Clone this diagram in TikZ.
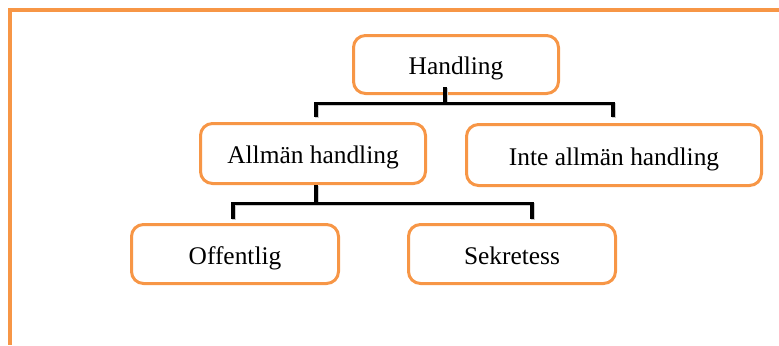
\documentclass[tikz,border=0pt]{standalone}
\usepackage{fontspec}
\setmainfont{Liberation Serif}
\definecolor{boxorange}{HTML}{F79646}
\tikzset{
  box/.style={draw=boxorange, line width=1.5pt, rounded corners=6pt, fill=white,
    inner sep=0pt, minimum height=29.5pt, text height=10.4pt, text depth=0pt,
    font=\fontsize{12.7}{15}\selectfont},
  bar/.style={line width=1.75pt, line join=miter,
    preaction={draw=black!20, line width=1.75pt, transform canvas={xshift=0.6pt,yshift=-0.6pt}}},
  frame/.style={draw=boxorange, line width=2pt}
}
\begin{document}
\begin{tikzpicture}[x=0.5pt, y=-0.5pt]
    \useasboundingbox (0,0) rectangle (779,345);

        \draw[frame] (779,10.3) -| (10.3,345);

        \node[box, minimum width=102.5pt, minimum height=29pt] (hand) at (456,64.5) {Handling};
        \node[box, minimum width=112.5pt, minimum height=30pt] (allm) at (313,153.5) {Allmän handling};
        \node[box, minimum width=147.5pt, minimum height=30.5pt] (inte) at (614,155) {Inte allmän handling};
        \node[box, minimum width=103.5pt] (off) at (235,254) {Offentlig};
        \node[box, minimum width=103.5pt] (sekr) at (512,254) {Sekretess};

        \draw[bar] ([xshift=-5.5pt,yshift=4pt]hand.south) -- ++(0,16.5) -| ([xshift=1.5pt,yshift=2.75pt]allm.north);
        \draw[bar] ([xshift=-5.5pt,yshift=4pt]hand.south) ++(0,16.5) -| ([xshift=-0.5pt,yshift=3.25pt]inte.north);

        \draw[bar] ([xshift=1.5pt]allm.south) -- ++(0,18.5) -| ([xshift=-1pt,yshift=2.25pt]off.north);
        \draw[bar] ([xshift=1.5pt]allm.south) ++(0,18.5) -| ([xshift=10pt,yshift=2.25pt]sekr.north);
    \end{tikzpicture}
\end{document}
